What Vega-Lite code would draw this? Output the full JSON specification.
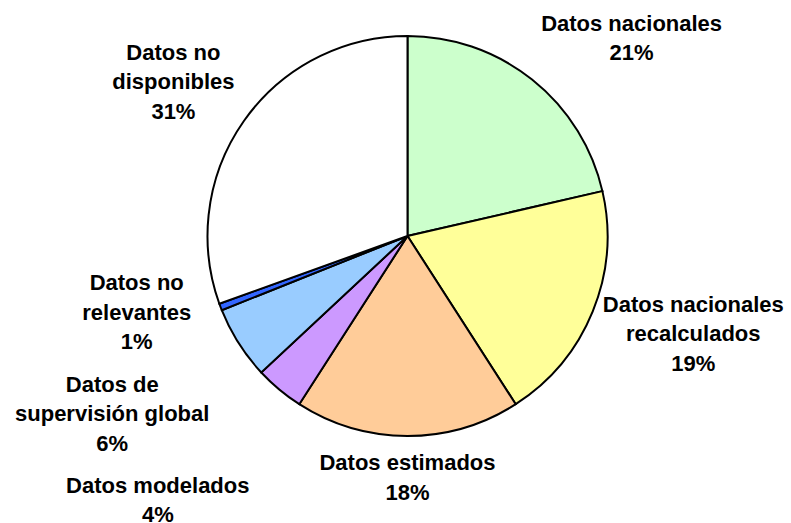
{
  "$schema": "https://vega.github.io/schema/vega-lite/v6.json",
  "width": 767,
  "height": 472,
  "autosize": {"type": "none"},
  "padding": {"left": 24, "top": 0, "right": 0, "bottom": 51},
  "background": "white",
  "config": {"view": {"stroke": null}},
  "data": {
    "values": [
      {"idx": 1, "cat": "Datos nacionales", "value": 21.4, "label": "Datos nacionales\n21%"},
      {"idx": 2, "cat": "Datos nacionales recalculados", "value": 19.5, "label": "Datos nacionales\nrecalculados\n19%"},
      {"idx": 3, "cat": "Datos estimados", "value": 18.2, "label": "Datos estimados\n18%"},
      {"idx": 4, "cat": "Datos modelados", "value": 3.95, "label": "Datos modelados\n4%"},
      {"idx": 5, "cat": "Datos de supervisión global", "value": 5.9, "label": "Datos de\nsupervisión global\n6%"},
      {"idx": 6, "cat": "Datos no relevantes", "value": 0.55, "label": "Datos no\nrelevantes\n1%"},
      {"idx": 7, "cat": "Datos no disponibles", "value": 30.5, "label": "Datos no\ndisponibles\n31%"}
    ]
  },
  "encoding": {
    "theta": {"field": "value", "type": "quantitative", "stack": true},
    "order": {"field": "idx", "type": "quantitative"},
    "color": {
      "field": "cat",
      "type": "nominal",
      "scale": {
        "domain": ["Datos nacionales", "Datos nacionales recalculados", "Datos estimados", "Datos modelados", "Datos de supervisión global", "Datos no relevantes", "Datos no disponibles"],
        "range": ["#CCFFCC", "#FFFF99", "#FFCC99", "#CC99FF", "#99CCFF", "#3366FF", "#FFFFFF"]
      },
      "legend": null
    }
  },
  "layer": [
    {"mark": {"type": "arc", "outerRadius": 200, "stroke": "black", "strokeWidth": 2}},
    {
      "mark": {"type": "text", "radius": 294, "dx": 41, "dy": 18, "font": "Liberation Sans", "fontWeight": "bold", "fontSize": 22, "lineBreak": "\n", "lineHeight": 29.5, "align": "center", "baseline": "middle"},
      "encoding": {"color": {"value": "black"}, "detail": {"field": "cat"}, "text": {"condition": {"test": "datum.idx === 1", "field": "label"}, "value": ""}}
    },
    {
      "mark": {"type": "text", "radius": 302, "dx": 6, "dy": -45, "font": "Liberation Sans", "fontWeight": "bold", "fontSize": 22, "lineBreak": "\n", "lineHeight": 29.5, "align": "center", "baseline": "middle"},
      "encoding": {"color": {"value": "black"}, "detail": {"field": "cat"}, "text": {"condition": {"test": "datum.idx === 2", "field": "label"}, "value": ""}}
    },
    {
      "mark": {"type": "text", "radius": 242, "dx": 0, "dy": -15, "font": "Liberation Sans", "fontWeight": "bold", "fontSize": 22, "lineBreak": "\n", "lineHeight": 29.5, "align": "center", "baseline": "middle"},
      "encoding": {"color": {"value": "black"}, "detail": {"field": "cat"}, "text": {"condition": {"test": "datum.idx === 3", "field": "label"}, "value": ""}}
    },
    {
      "mark": {"type": "text", "radius": 363, "dx": -17, "dy": -29, "font": "Liberation Sans", "fontWeight": "bold", "fontSize": 22, "lineBreak": "\n", "lineHeight": 29.5, "align": "center", "baseline": "middle"},
      "encoding": {"color": {"value": "black"}, "detail": {"field": "cat"}, "text": {"condition": {"test": "datum.idx === 4", "field": "label"}, "value": ""}}
    },
    {
      "mark": {"type": "text", "radius": 345, "dx": -4, "dy": -36, "font": "Liberation Sans", "fontWeight": "bold", "fontSize": 22, "lineBreak": "\n", "lineHeight": 29.5, "align": "center", "baseline": "middle"},
      "encoding": {"color": {"value": "black"}, "detail": {"field": "cat"}, "text": {"condition": {"test": "datum.idx === 5", "field": "label"}, "value": ""}}
    },
    {
      "mark": {"type": "text", "radius": 280, "dx": -9, "dy": -52, "font": "Liberation Sans", "fontWeight": "bold", "fontSize": 22, "lineBreak": "\n", "lineHeight": 29.5, "align": "center", "baseline": "middle"},
      "encoding": {"color": {"value": "black"}, "detail": {"field": "cat"}, "text": {"condition": {"test": "datum.idx === 6", "field": "label"}, "value": ""}}
    },
    {
      "mark": {"type": "text", "radius": 280, "dx": -5, "dy": -22, "font": "Liberation Sans", "fontWeight": "bold", "fontSize": 22, "lineBreak": "\n", "lineHeight": 29.5, "align": "center", "baseline": "middle"},
      "encoding": {"color": {"value": "black"}, "detail": {"field": "cat"}, "text": {"condition": {"test": "datum.idx === 7", "field": "label"}, "value": ""}}
    }
  ]
}
